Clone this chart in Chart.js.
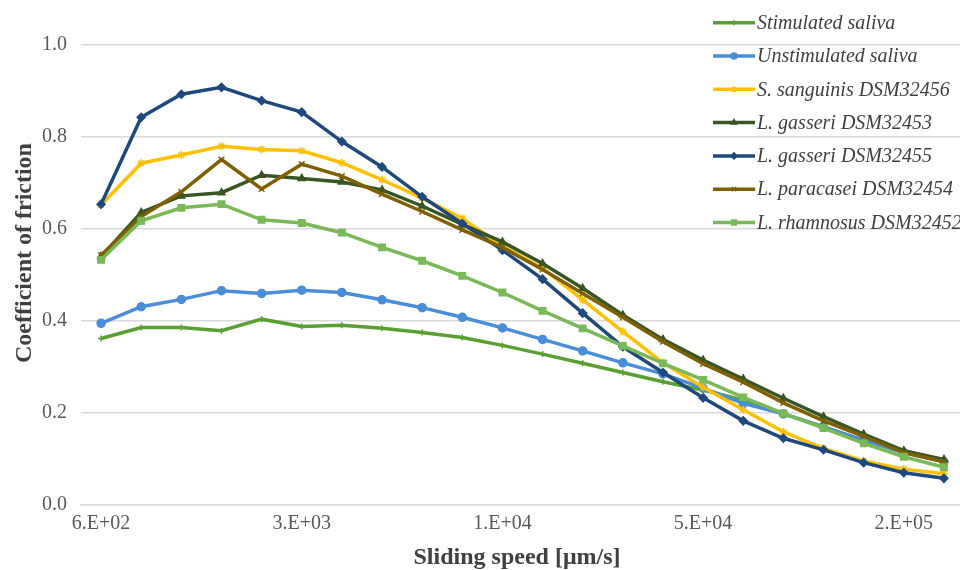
<!DOCTYPE html>
<html>
<head>
<meta charset="utf-8">
<script src="https://cdn.jsdelivr.net/npm/chart.js@4/dist/chart.umd.min.js"></script>
<style>
  html, body { margin: 0; padding: 0; background: #ffffff; overflow: hidden; width: 960px; height: 570px; }
  #wrap { position: absolute; left: 0; top: 0; width: 970px; height: 570px; }
</style>
</head>
<body>
<div id="wrap"><canvas id="c" width="970" height="570"></canvas></div>
<script>
// Sliding speed categories (µm/s), estimated log-spaced values
const speeds = [600, 800, 1070, 1430, 1920, 2560, 3430, 4580, 6130, 8190, 10950,
                14650, 19600, 26200, 35000, 46800, 62600, 83700, 112000, 150000, 200000, 267000];
// Tick labels shown every 5th category
const tickLabels = ["6.E+02", "3.E+03", "1.E+04", "5.E+04", "2.E+05"];
const tickEvery = 5;

const seriesNames = [
  "Stimulated saliva",
  "Unstimulated saliva",
  "S. sanguinis DSM32456",
  "L. gasseri DSM32453",
  "L. gasseri DSM32455",
  "L. paracasei DSM32454",
  "L. rhamnosus DSM32452"
];

const stimulated  = [0.362, 0.386, 0.386, 0.379, 0.404, 0.388, 0.391, 0.384, 0.375, 0.364, 0.347, 0.328, 0.308, 0.288, 0.268, 0.250, 0.228, 0.198, 0.170, 0.140, 0.115, 0.097];
const unstimulated = [0.395, 0.431, 0.447, 0.466, 0.460, 0.467, 0.462, 0.446, 0.429, 0.408, 0.385, 0.360, 0.335, 0.309, 0.285, 0.254, 0.221, 0.198, 0.170, 0.141, 0.114, 0.094];
const sanguinis   = [0.652, 0.743, 0.761, 0.780, 0.773, 0.770, 0.744, 0.707, 0.667, 0.623, 0.563, 0.515, 0.446, 0.377, 0.309, 0.256, 0.207, 0.159, 0.123, 0.096, 0.078, 0.068];
const gasseri53   = [0.540, 0.636, 0.672, 0.679, 0.717, 0.710, 0.702, 0.685, 0.650, 0.610, 0.572, 0.525, 0.471, 0.413, 0.360, 0.315, 0.274, 0.232, 0.192, 0.154, 0.118, 0.099];
const gasseri55   = [0.654, 0.843, 0.893, 0.908, 0.879, 0.854, 0.790, 0.735, 0.670, 0.612, 0.554, 0.491, 0.417, 0.344, 0.288, 0.233, 0.183, 0.145, 0.120, 0.092, 0.070, 0.058];
const paracasei   = [0.543, 0.627, 0.681, 0.751, 0.687, 0.741, 0.715, 0.676, 0.638, 0.598, 0.560, 0.512, 0.460, 0.408, 0.355, 0.307, 0.267, 0.222, 0.183, 0.149, 0.114, 0.094];
const rhamnosus   = [0.533, 0.618, 0.646, 0.654, 0.620, 0.613, 0.592, 0.560, 0.531, 0.498, 0.462, 0.422, 0.384, 0.346, 0.308, 0.272, 0.234, 0.199, 0.167, 0.134, 0.105, 0.082];

const seriesValues = [stimulated, unstimulated, sanguinis, gasseri53, gasseri55, paracasei, rhamnosus];
const seriesColors = ["#5A9F32", "#4A8DD8", "#FFC000", "#375623", "#1F497D", "#7F6000", "#79B957"];
const seriesPoints = ["cross", "circle", "star", "triangle", "rectRot", "crossRot", "rect"];
const seriesRadius = [3, 4, 4, 4, 4, 4, 4.5];

const FONT = "'Liberation Serif', 'Times New Roman', serif";
const yTitle = "Coefficient of friction";
const xTitle = "Sliding speed [\u03BCm/s]";

const datasets = seriesNames.map((name, i) => ({
  label: name,
  data: seriesValues[i],
  borderColor: seriesColors[i],
  backgroundColor: seriesColors[i],
  borderWidth: 3.5,
  pointStyle: seriesPoints[i],
  pointRadius: seriesRadius[i],
  pointBorderWidth: 1.5,
  pointBorderColor: seriesColors[i],
  pointBackgroundColor: seriesColors[i],
  tension: 0,
  order: seriesNames.length - i
}));

const overlay = {
  id: 'overlay',
  afterDraw(chart) {
    const ctx = chart.ctx;
    ctx.save();
    // Axis titles
    ctx.fillStyle = "#404040";
    ctx.font = "bold 24px " + FONT;
    ctx.textAlign = "center";
    ctx.textBaseline = "middle";
    ctx.save();
    ctx.translate(25, 253);
    ctx.rotate(-Math.PI / 2);
    ctx.fillText(yTitle, 0, 0);
    ctx.restore();
    ctx.fillText(xTitle, 517, 558);

    // Legend (drawn over the plot at top right)
    const lx = 713, sampleLen = 42, textX = 757, y0 = 22.7, dy = 33.3;
    ctx.font = "italic 20px " + FONT;
    ctx.textAlign = "left";
    chart.data.datasets.forEach((ds, i) => {
      const y = y0 + i * dy;
      ctx.strokeStyle = ds.borderColor;
      ctx.lineWidth = 3.5;
      ctx.lineCap = "butt";
      ctx.beginPath();
      ctx.moveTo(lx, y);
      ctx.lineTo(lx + sampleLen, y);
      ctx.stroke();
      if (Chart.helpers && Chart.helpers.drawPoint) {
        ctx.fillStyle = ds.backgroundColor;
        ctx.strokeStyle = ds.borderColor;
        ctx.lineWidth = 1.5;
        Chart.helpers.drawPoint(ctx, {pointStyle: ds.pointStyle, radius: Math.max(2.5, ds.pointRadius - 1), rotation: 0, borderWidth: 1.5}, lx + sampleLen / 2, y);
      }
      ctx.fillStyle = "#404040";
      ctx.fillText(ds.label, textX, y + 1);
    });
    ctx.restore();
  }
};

new Chart(document.getElementById('c'), {
  type: 'line',
  data: { labels: speeds, datasets },
  options: {
    responsive: false,
    animation: false,
    devicePixelRatio: 1,
    layout: { padding: { top: 45, left: 0, right: 0, bottom: 0 } },
    plugins: { legend: { display: false }, tooltip: { enabled: false } },
    scales: {
      x: {
        type: 'category',
        offset: true,
        grid: { display: false, drawTicks: false },
        border: { display: true, color: '#d9d9d9', width: 1.5 },
        ticks: {
          autoSkip: false,
          maxRotation: 0,
          minRotation: 0,
          padding: 7,
          color: '#595959',
          font: { family: FONT, size: 20 },
          callback: (v, i) => (i % tickEvery === 0 ? tickLabels[i / tickEvery] : '')
        },
        afterFit: (s) => { s.height = 65; }
      },
      y: {
        min: 0,
        max: 1,
        grid: { color: '#d9d9d9', lineWidth: 1.5, drawTicks: false },
        border: { display: false },
        ticks: {
          stepSize: 0.2,
          padding: 14,
          color: '#595959',
          font: { family: FONT, size: 20 },
          callback: (v) => Number(v).toFixed(1)
        },
        afterFit: (s) => { s.width = 81; }
      }
    }
  },
  plugins: [overlay]
});
</script>
</body>
</html>
